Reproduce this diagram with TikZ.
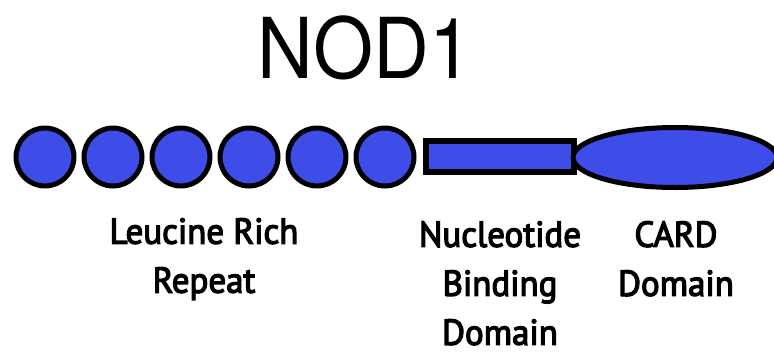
\documentclass[tikz,border=0pt]{standalone}
\usepackage{fontspec}
\setsansfont[FakeBold=3.5,FakeStretch=0.97]{PT Sans}
\newfontfamily\titlefont[FakeStretch=0.92]{TeX Gyre Heros}
\usetikzlibrary{shapes.geometric}
\definecolor{domblue}{RGB}{62,76,232}

\tikzset{
  dom/.style={draw=black, fill=domblue, line width=5pt, inner sep=0pt},
  lrr/.style={dom, circle, minimum size=58pt},
  lab/.style={font=\sffamily\fontsize{36}{49}\selectfont, align=center, inner sep=0pt, anchor=north}
}

\begin{document}
\begin{tikzpicture}[x=1pt,y=1pt]
                \useasboundingbox (0,0) rectangle (774,-354);
                \node[anchor=base, inner sep=0pt] (title) at (365,-78) {\titlefont\fontsize{84}{84}\selectfont NOD1};
                % leucine rich repeats
                \foreach \i in {1,...,6}
                    \node[lrr] (lrr\i) at (45+68*\i-68,-157) {};
                \node[dom, rectangle, line width=6pt, minimum width=148pt, minimum height=31pt] (nbd) at (500,-156.5) {};
                \node[dom, ellipse, minimum width=204pt, minimum height=60pt] (card) at (675,-157.5) {};
                % labels
                \node[lab] (lrrlab) at (204,-218) {Leucine Rich\\Repeat};
                \node[lab] (nbdlab) at (500,-221) {Nucleotide\\Binding\\Domain};
                \node[lab] (cardlab) at (676,-221) {CARD\\Domain};
\end{tikzpicture}
\end{document}
